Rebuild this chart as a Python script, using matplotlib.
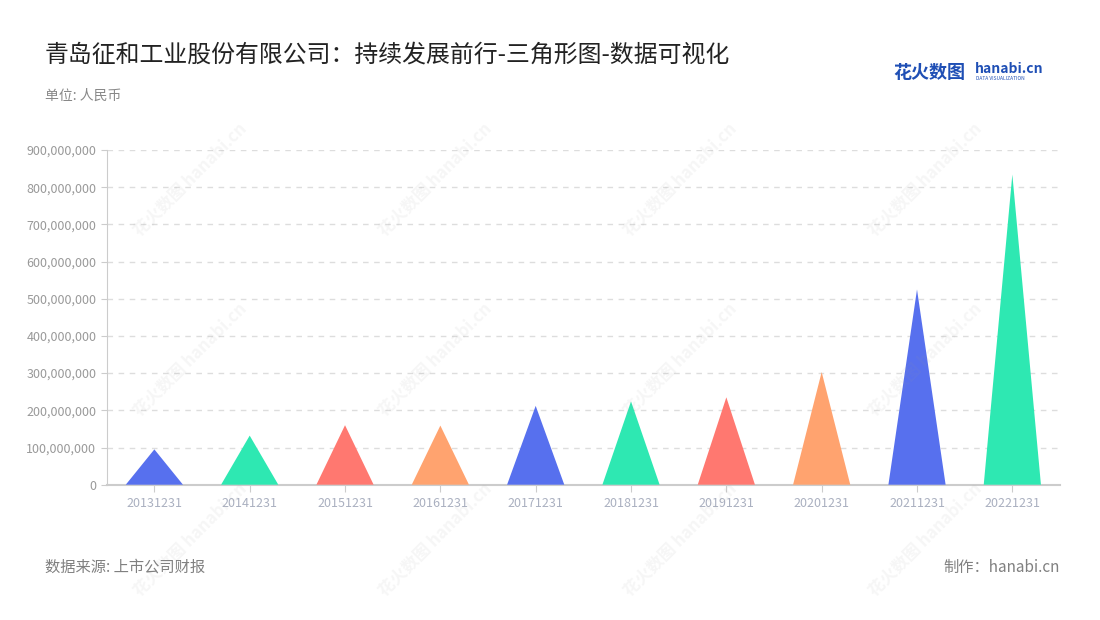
import numpy as np
import matplotlib.pyplot as plt
from matplotlib.ticker import FuncFormatter

plt.rcParams['font.family'] = ['Noto Sans CJK SC', 'DejaVu Sans']

# 数据
dates = ['20131231', '20141231', '20151231', '20161231', '20171231',
         '20181231', '20191231', '20201231', '20211231', '20221231']
values = [95e6, 132e6, 160e6, 159e6, 212e6, 224e6, 235e6, 303e6, 525e6, 834e6]
colors = ['#5770EE', '#2EE8B2', '#FF7870', '#FFA36F']

title = '青岛征和工业股份有限公司：持续发展前行-三角形图-数据可视化'
unit = '单位: 人民币'
source = '数据来源: 上市公司财报'
maker = '制作：hanabi.cn'

fig = plt.figure(figsize=(11, 6.2), dpi=100)
ax = fig.add_axes([106.7 / 1100, 1 - 484.7 / 620, (1060 - 106.7) / 1100, (484.7 - 150) / 620])

x = np.arange(len(dates))
half = 0.3
for i, v in enumerate(values):
    ax.fill([x[i] - half, x[i], x[i] + half], [0, v, 0],
            color=colors[i % len(colors)], lw=0, zorder=3)

ax.set_xlim(-0.5, len(dates) - 0.5)
ax.set_ylim(0, 900e6)
ax.set_yticks(np.arange(0, 900e6 + 1, 100e6))
ax.yaxis.set_major_formatter(FuncFormatter(lambda v, p: f'{int(v):,}'))
ax.set_xticks(x)
ax.set_xticklabels(dates)

ax.grid(axis='y', color='#dddddd', ls=(0, (4, 4)), lw=1, zorder=0)
for s in ['top', 'right']:
    ax.spines[s].set_visible(False)
ax.spines['left'].set_color('#cccccc')
ax.spines['bottom'].set_color('#cccccc')
ax.spines['bottom'].set_linewidth(1.5)
ax.tick_params(axis='y', colors='#cccccc', labelcolor='#999999', labelsize=9, length=4)
ax.tick_params(axis='x', colors='#cccccc', labelcolor='#aab0c0', labelsize=9, length=5, pad=4)

# 标题等
fig.text(45 / 1100, 1 - 55 / 620, title, fontsize=17.2, color='#222222', va='center')
fig.text(45 / 1100, 1 - 96 / 620, unit, fontsize=10, color='#888888', va='center')
fig.text(45 / 1100, 1 - 567 / 620, source, fontsize=11, color='#808080', va='center')
fig.text(1060 / 1100, 1 - 567 / 620, maker, fontsize=11, color='#808080', va='center', ha='right')

# logo
fig.text(893 / 1100, 1 - 72 / 620, '花火数图', fontsize=13, color='#1f4fb5',
         fontweight='bold', va='center')
fig.text(975 / 1100, 1 - 69 / 620, 'hanabi.cn', fontsize=10, color='#1f4fb5',
         fontweight='bold', va='center')
fig.text(976 / 1100, 1 - 79 / 620, 'DATA VISUALIZATION', fontsize=3.5, color='#1f4fb5',
         va='center')

# 水印
for wx in [130, 375, 620, 865]:
    for wy in [180, 360, 540]:
        fig.text(wx / 1100, 1 - wy / 620, '花火数图 hanabi.cn', fontsize=12,
                 color='#999999', alpha=0.09, rotation=45, ha='left', va='center',
                 fontweight='bold')

fig.savefig('out.png', dpi=100)
